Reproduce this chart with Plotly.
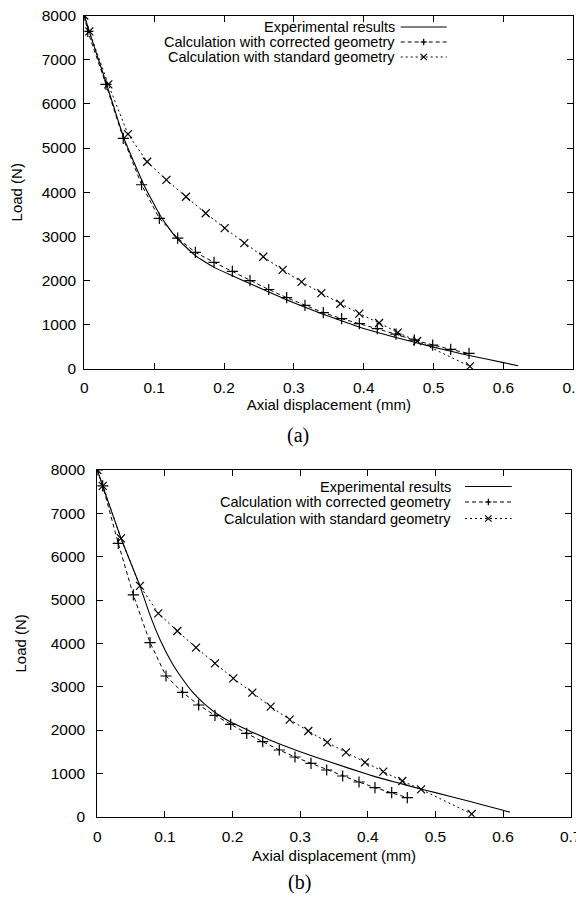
import plotly.graph_objects as go

# The page body has an 8px default margin, so the figure is sized to fill the rest of the window.
OFF = 8
W, H = 584 - OFF, 901 - OFF

# ---------------- data: panel (a) ----------------
exp_a_x = [0, 0.01, 0.032, 0.057, 0.0855, 0.11, 0.13, 0.159, 0.186, 0.212, 0.237, 0.264, 0.289,
           0.316, 0.342, 0.37, 0.40, 0.446, 0.50, 0.525, 0.551, 0.60, 0.621]
exp_a_y = [8000, 7500, 6440, 5210, 4160, 3440, 3000, 2565, 2300, 2110, 1935, 1745, 1570,
           1395, 1240, 1080, 915, 712, 495, 400, 305, 145, 72]

cor_a_x = [0, 0.005, 0.031, 0.0558, 0.082, 0.1074, 0.1337, 0.159, 0.1857, 0.2119, 0.2372, 0.264,
           0.2897, 0.3159, 0.3421, 0.3684, 0.3937, 0.4194, 0.4462, 0.4724, 0.4987, 0.5245, 0.5507]
cor_a_y = [8000, 7640, 6440, 5220, 4170, 3411, 2962, 2639, 2414, 2211, 2002, 1799,
           1615, 1439, 1275, 1140, 1027, 914, 787, 652, 540, 442, 352]

std_a_x = [0, 0.0072, 0.0344, 0.0625, 0.09, 0.1175, 0.1456, 0.1738, 0.201, 0.229, 0.2562, 0.284,
           0.311, 0.3393, 0.3665, 0.3937, 0.422, 0.4486, 0.4765, 0.552]
std_a_y = [8000, 7640, 6440, 5315, 4690, 4280, 3898, 3524, 3187, 2849, 2541, 2242,
           1970, 1717, 1477, 1252, 1042, 825, 633, 60]

# ---------------- data: panel (b) ----------------
exp_b_x = [0, 0.008, 0.035, 0.063, 0.077, 0.093, 0.11, 0.125, 0.14, 0.16, 0.18, 0.201, 0.255, 0.3,
           0.34, 0.403, 0.44, 0.477, 0.5, 0.55, 0.6, 0.61]
exp_b_y = [8000, 7632, 6424, 5325, 4693, 4078, 3560, 3200, 2890, 2580, 2340, 2154, 1770, 1500,
           1285, 960, 800, 645, 555, 355, 150, 105]

cor_b_x = [0, 0.008, 0.031, 0.0533, 0.078, 0.1016, 0.126, 0.1499, 0.174, 0.1972, 0.2209, 0.2446,
           0.2691, 0.2923, 0.316, 0.3392, 0.3628, 0.387, 0.4106, 0.4353, 0.4584]
cor_b_y = [8000, 7632, 6309, 5117, 4016, 3247, 2870, 2578, 2339, 2131, 1924, 1731,
           1539, 1377, 1231, 1078, 939, 801, 670, 554, 439]

std_b_x = [0, 0.008, 0.035, 0.0631, 0.0902, 0.1183, 0.146, 0.174, 0.2011, 0.2292, 0.2564, 0.2845,
           0.312, 0.340, 0.3677, 0.3958, 0.4229, 0.451, 0.4787, 0.5536]
std_b_y = [8000, 7632, 6424, 5325, 4693, 4286, 3901, 3539, 3193, 2862, 2539, 2240,
           1978, 1716, 1485, 1254, 1039, 824, 631, 62]

series_names = ["Experimental results",
                "Calculation with corrected geometry",
                "Calculation with standard geometry"]
x_title = "Axial displacement (mm)"
y_title = "Load (N)"
panel_labels = ["(a)", "(b)"]

SANS = "Liberation Sans, Arial, sans-serif"
SERIF = "Liberation Serif, Times New Roman, serif"
DASH_COR = "4px,3px"
DASH_STD = "2px,3px"


def px(x):
    """window pixel x -> paper fraction"""
    return (x - OFF) / W


def py(y):
    """window pixel y -> paper fraction"""
    return 1 - (y - OFF) / H


fig = go.Figure()

panels = [
    dict(xa="x", ya="y", data=[(exp_a_x, exp_a_y), (cor_a_x, cor_a_y), (std_a_x, std_a_y)]),
    dict(xa="x2", ya="y2", data=[(exp_b_x, exp_b_y), (cor_b_x, cor_b_y), (std_b_x, std_b_y)]),
]

for p in panels:
    (ex, ey), (cx, cy), (sx, sy) = p["data"]
    fig.add_trace(go.Scatter(x=ex, y=ey, mode="lines", name=series_names[0],
                             line=dict(color="black", width=1.1, shape="spline", smoothing=0.4),
                             xaxis=p["xa"], yaxis=p["ya"], showlegend=False))
    fig.add_trace(go.Scatter(x=cx, y=cy, mode="lines+markers", name=series_names[1],
                             line=dict(color="black", width=1, dash=DASH_COR),
                             marker=dict(symbol="cross-thin", size=8, color="black",
                                         line=dict(width=1.2, color="black")),
                             xaxis=p["xa"], yaxis=p["ya"], showlegend=False))
    fig.add_trace(go.Scatter(x=sx, y=sy, mode="lines+markers", name=series_names[2],
                             line=dict(color="black", width=1, dash=DASH_STD),
                             marker=dict(symbol="x-thin", size=8, color="black",
                                         line=dict(width=1.2, color="black")),
                             xaxis=p["xa"], yaxis=p["ya"], showlegend=False))

axis_common = dict(showline=True, linecolor="black", linewidth=1, mirror="ticks",
                   ticks="inside", ticklen=6, tickwidth=1, tickcolor="black",
                   showgrid=False, zeroline=False, automargin=False,
                   ticklabeloverflow="allow",
                   tickfont=dict(family=SANS, size=15.5, color="black"))

xdom_a = [px(84.3), px(573.3)]
ydom_a = [py(369), py(15.5)]
xdom_b = [px(97.3), px(570.7)]
ydom_b = [py(816.7), py(470)]

fig.update_layout(
    width=W, height=H, autosize=False,
    margin=dict(l=0, r=0, t=0, b=0),
    paper_bgcolor="white", plot_bgcolor="white",
    showlegend=False,
    xaxis=dict(domain=xdom_a, anchor="y", range=[0, 0.7], tick0=0, dtick=0.1,
               ticklabelstandoff=4,
               title=dict(text=x_title, font=dict(family=SANS, size=15, color="black"), standoff=4),
               **axis_common),
    yaxis=dict(domain=ydom_a, anchor="x", range=[0, 8000], tick0=0, dtick=1000,
               ticklabelstandoff=4,
               title=dict(text=y_title, font=dict(family=SANS, size=15, color="black"), standoff=16),
               **axis_common),
    xaxis2=dict(domain=xdom_b, anchor="y2", range=[0, 0.7], tick0=0, dtick=0.1,
                ticklabelstandoff=6,
                title=dict(text=x_title, font=dict(family=SANS, size=15, color="black"), standoff=6),
                **axis_common),
    yaxis2=dict(domain=ydom_b, anchor="x2", range=[0, 8000], tick0=0, dtick=1000,
                ticklabelstandoff=8,
                title=dict(text=y_title, font=dict(family=SANS, size=15, color="black"), standoff=20),
                **axis_common),
)

# ---------------- manual gnuplot-style legends (text right, key on the right) ----------------
legend_specs = [
    dict(text_right=396.7, rows=[27.0, 42.0, 57.0], key_l=400.7, key_r=446.7),
    dict(text_right=453.3, rows=[486.5, 502.0, 518.5], key_l=465.0, key_r=511.7),
]
annotations = []
shapes = []
dashes = ["solid", DASH_COR, DASH_STD]
for spec in legend_specs:
    kc = (spec["key_l"] + spec["key_r"]) / 2
    for i, (name, ry) in enumerate(zip(series_names, spec["rows"])):
        annotations.append(dict(text=name, x=px(spec["text_right"]), y=py(ry), xref="paper", yref="paper",
                                xanchor="right", yanchor="middle", showarrow=False,
                                font=dict(family=SANS, size=14.5, color="black")))
        shapes.append(dict(type="line", xref="paper", yref="paper",
                           x0=px(spec["key_l"]), x1=px(spec["key_r"]), y0=py(ry), y1=py(ry),
                           line=dict(color="black", width=1, dash=dashes[i])))
        s = 3.2
        if i == 1:
            path = (f"M{px(kc - s)},{py(ry)} L{px(kc + s)},{py(ry)} "
                    f"M{px(kc)},{py(ry - s)} L{px(kc)},{py(ry + s)}")
            shapes.append(dict(type="path", xref="paper", yref="paper", path=path,
                               line=dict(color="black", width=1.2)))
        elif i == 2:
            path = (f"M{px(kc - s)},{py(ry - s)} L{px(kc + s)},{py(ry + s)} "
                    f"M{px(kc - s)},{py(ry + s)} L{px(kc + s)},{py(ry - s)}")
            shapes.append(dict(type="path", xref="paper", yref="paper", path=path,
                               line=dict(color="black", width=1.2)))

# panel labels
for lab, (lx, ly) in zip(panel_labels, [(298, 435), (299, 882)]):
    annotations.append(dict(text=lab, x=px(lx), y=py(ly), xref="paper", yref="paper",
                            xanchor="center", yanchor="middle", showarrow=False,
                            font=dict(family=SERIF, size=20, color="black")))

fig.update_layout(annotations=annotations, shapes=shapes)

fig.write_html("out.html")
